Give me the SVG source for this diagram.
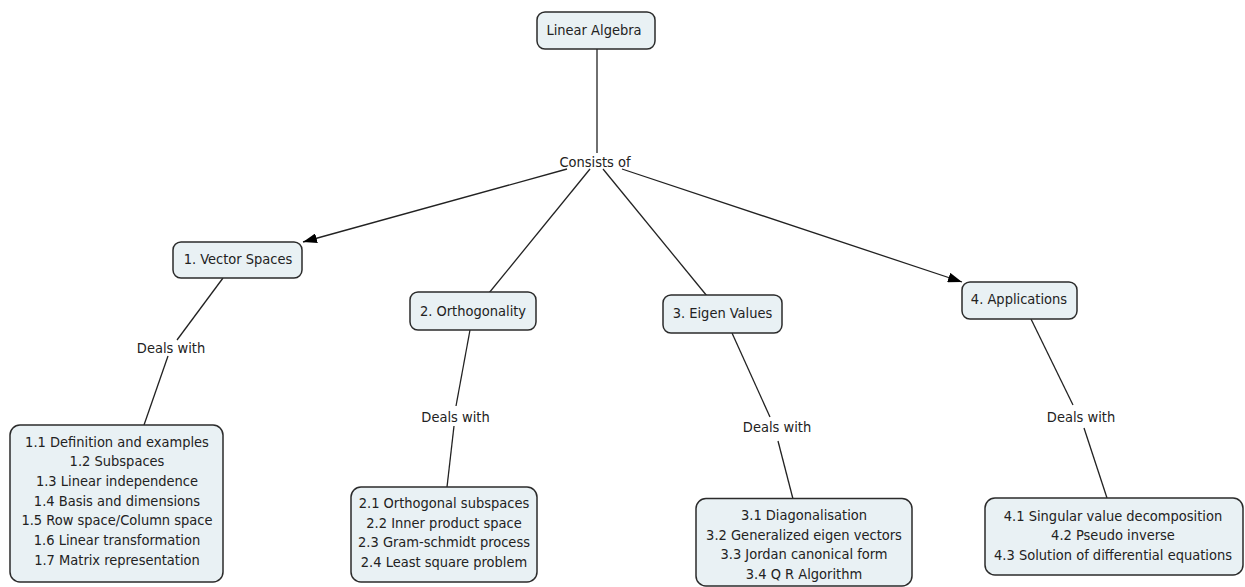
<svg xmlns="http://www.w3.org/2000/svg" width="1245" height="587" viewBox="0 0 1245 587">
  <style>
    .box { fill: #e9f1f4; stroke: #2b2b2b; stroke-width: 1.5; }
    .t { font-family: "DejaVu Sans Condensed", "DejaVu Sans", sans-serif; font-stretch: condensed; font-size: 14.5px; fill: #222; text-anchor: middle; }
    .link { fill: none; stroke: #222; stroke-width: 1.3; }
  </style>
  <defs>
    <marker id="arrow" viewBox="0 0 14 10" refX="14" refY="5" markerWidth="14" markerHeight="10" markerUnits="userSpaceOnUse" orient="auto">
      <path d="M0,0 L14,5 L0,10 Z" fill="#000"/>
    </marker>
  </defs>
  <rect width="1245" height="587" fill="#fff"/>

  <!-- connectors -->
  <g id="connectors">
    <line class="link" x1="597" y1="49" x2="597" y2="153"/>
    <line class="link" x1="567" y1="169" x2="303" y2="242" marker-end="url(#arrow)"/>
    <line class="link" x1="590" y1="169" x2="489" y2="293"/>
    <line class="link" x1="603" y1="169" x2="707" y2="296"/>
    <line class="link" x1="622" y1="169" x2="962" y2="282" marker-end="url(#arrow)"/>

    <line class="link" x1="223" y1="278" x2="177" y2="340"/>
    <line class="link" x1="168" y1="356" x2="144" y2="425"/>

    <line class="link" x1="470" y1="330" x2="456" y2="406"/>
    <line class="link" x1="454" y1="426" x2="447" y2="487"/>

    <line class="link" x1="732" y1="333" x2="770" y2="417"/>
    <line class="link" x1="778" y1="441" x2="793" y2="499"/>

    <line class="link" x1="1031" y1="319" x2="1073" y2="405"/>
    <line class="link" x1="1084" y1="428" x2="1107" y2="498"/>
  </g>

  <!-- linking phrases -->
  <g id="labels">
    <text class="t" x="595" y="166.5">Consists of</text>
    <text class="t" x="171" y="353">Deals with</text>
    <text class="t" x="455.5" y="422">Deals with</text>
    <text class="t" x="777" y="432">Deals with</text>
    <text class="t" x="1081" y="422">Deals with</text>
  </g>

  <g id="linear-algebra">
    <rect class="box" x="537" y="12" width="118" height="37" rx="8"/>
    <text class="t" x="594" y="35">Linear Algebra</text>
  </g>

  <g id="vector-spaces">
    <rect class="box" x="173" y="242" width="129" height="36" rx="8"/>
    <text class="t" x="238" y="264">1. Vector Spaces</text>
  </g>

  <g id="orthogonality">
    <rect class="box" x="410" y="292" width="126" height="38" rx="8"/>
    <text class="t" x="473" y="316">2. Orthogonality</text>
  </g>

  <g id="eigen-values">
    <rect class="box" x="663" y="295" width="119" height="38" rx="8"/>
    <text class="t" x="722.5" y="318">3. Eigen Values</text>
  </g>

  <g id="applications">
    <rect class="box" x="962" y="282" width="115" height="37" rx="8"/>
    <text class="t" x="1019" y="303.5">4. Applications</text>
  </g>

  <g id="vector-spaces-topics">
    <rect class="box" x="10" y="425" width="213" height="157" rx="10"/>
    <text class="t" x="117" y="446.5">1.1 Definition and examples</text>
    <text class="t" x="117" y="466.2">1.2 Subspaces</text>
    <text class="t" x="117" y="485.9">1.3 Linear independence</text>
    <text class="t" x="117" y="505.6">1.4 Basis and dimensions</text>
    <text class="t" x="117" y="525.3">1.5 Row space/Column space</text>
    <text class="t" x="117" y="545">1.6 Linear transformation</text>
    <text class="t" x="117" y="564.7">1.7 Matrix representation</text>
  </g>

  <g id="orthogonality-topics">
    <rect class="box" x="351" y="487" width="186" height="95" rx="10"/>
    <text class="t" x="444" y="508">2.1 Orthogonal subspaces</text>
    <text class="t" x="444" y="527.5">2.2 Inner product space</text>
    <text class="t" x="444" y="547">2.3 Gram-schmidt process</text>
    <text class="t" x="444" y="566.5">2.4 Least square problem</text>
  </g>

  <g id="eigen-values-topics">
    <rect class="box" x="696" y="498.5" width="216" height="87.5" rx="10"/>
    <text class="t" x="804" y="520">3.1 Diagonalisation</text>
    <text class="t" x="804" y="539.7">3.2 Generalized eigen vectors</text>
    <text class="t" x="804" y="559.4">3.3 Jordan canonical form</text>
    <text class="t" x="804" y="579">3.4 Q R Algorithm</text>
  </g>

  <g id="applications-topics">
    <rect class="box" x="985" y="498" width="258" height="77" rx="10"/>
    <text class="t" x="1113" y="520.5">4.1 Singular value decomposition</text>
    <text class="t" x="1113" y="540">4.2 Pseudo inverse</text>
    <text class="t" x="1113" y="559.5">4.3 Solution of differential equations</text>
  </g>
</svg>
